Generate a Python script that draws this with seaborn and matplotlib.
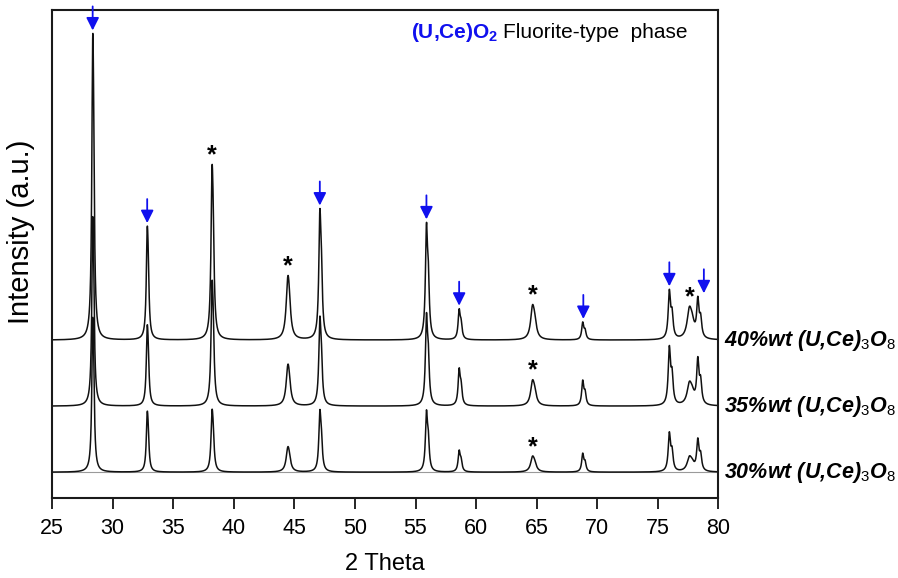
import numpy as np
import pandas as pd
import matplotlib
matplotlib.use('Agg')
import matplotlib.pyplot as plt
import seaborn as sns

# peak list (2 theta, FWHM in degrees)
peak_pos = [28.35, 32.85, 38.2, 44.45, 47.1, 55.9, 58.6, 64.65, 68.8, 75.95, 77.6, 78.3]
peak_fwhm = [0.18, 0.18, 0.20, 0.32, 0.20, 0.20, 0.20, 0.36, 0.20, 0.22, 0.44, 0.22]

# peak heights (a.u.) for each sample
h_40 = [301, 112, 173, 63, 130, 117, 31, 35, 18, 50, 32, 39]
h_35 = [186, 80, 124, 41, 89, 93, 38, 26, 26, 60, 23, 46]
h_30 = [152, 60, 62, 25, 62, 62, 22, 16, 19, 40, 15, 32]

samples = ['40%wt (U,Ce)$_3$O$_8$', '35%wt (U,Ce)$_3$O$_8$', '30%wt (U,Ce)$_3$O$_8$']
offsets = [132, 66, 0]

# markers
fluorite_pos = [28.35, 32.85, 47.1, 55.9, 58.6, 68.85, 75.95, 78.8]
star_pos = [38.2, 44.45, 64.65, 77.6]
star_pos_lower = [64.65]

ka2_ratio = 0.5

two_theta = np.linspace(25, 80, 5501)


def lor(x, p, w):
    return 1 / (1 + ((x - p) / (w / 2)) ** 2)


def pattern(heights):
    y = np.zeros_like(two_theta)
    for p, w, h in zip(peak_pos, peak_fwhm, heights):
        # Cu K-alpha2 shoulder
        p2 = p + np.degrees(2 * np.tan(np.radians(p / 2)) * 0.00247)
        a = h / (1 + ka2_ratio * lor(p, p2, w))
        y += a * lor(two_theta, p, w) + ka2_ratio * a * lor(two_theta, p2, w)
    return y


rows = []
for name, off, hs in zip(samples, offsets, [h_40, h_35, h_30]):
    rows.append(pd.DataFrame({'2 Theta': two_theta, 'Intensity': pattern(hs) + off, 'sample': name}))
df = pd.concat(rows)

sns.set_style('ticks')
plt.rcParams['font.family'] = ['Liberation Sans', 'DejaVu Sans']
plt.rcParams['mathtext.fontset'] = 'custom'
plt.rcParams['mathtext.it'] = 'Liberation Sans:bold:italic'
plt.rcParams['mathtext.bf'] = 'Liberation Sans:bold'
plt.rcParams['mathtext.rm'] = 'Liberation Sans'
plt.rcParams['text.color'] = 'black'
plt.rcParams['axes.labelcolor'] = 'black'
plt.rcParams['xtick.color'] = 'black'

fig = plt.figure(figsize=(8.98, 5.78), dpi=100)
ax = fig.add_axes([0.058, 0.138, 0.742, 0.845])

ax.axhline(0, color='#9a9a9a', lw=0.8, zorder=1)
for name in samples[::-1]:
    d = df[df['sample'] == name]
    sns.lineplot(data=d, x='2 Theta', y='Intensity', color='#111111', lw=1.1, ax=ax, estimator=None)

ax.set_xlim(25, 80)
ax.set_ylim(-26, 462)
ax.set_xticks(range(25, 81, 5))
ax.set_yticks([])
ax.tick_params(axis='x', direction='out', length=8, width=1.2, pad=6, labelsize=15.5)
for s in ax.spines.values():
    s.set_linewidth(1.5)
    s.set_color('#1a1a1a')
ax.set_xlabel('2 Theta', fontsize=17, labelpad=10)
ax.set_ylabel('Intensity (a.u.)', fontsize=21)
ax.yaxis.set_label_coords(-0.026, 0.545)

# sample labels right of the frame
for name, off in zip(samples, offsets):
    ax.text(80.5, off, name, fontsize=15.5, fontweight='bold', fontstyle='italic',
            va='center', ha='left', clip_on=False)

top_40 = pattern(h_40) + offsets[0]


def local_top(x, trace):
    m = (two_theta > x - 0.5) & (two_theta < x + 0.5)
    return trace[m].max()


for x in fluorite_pos:
    tip = local_top(x, top_40) + 3
    ax.annotate('', xy=(x, tip), xytext=(x, tip + 24),
                arrowprops=dict(arrowstyle='-|>', color='#1010ee', lw=1.3, mutation_scale=19,
                                shrinkA=0, shrinkB=0))

for x in star_pos:
    ax.text(x, local_top(x, top_40) + 9, '*', fontsize=18, fontweight='bold', ha='center', va='center')
for x in star_pos_lower:
    for hs, off in zip([h_35, h_30], offsets[1:]):
        ax.text(x, local_top(x, pattern(hs) + off) + 9, '*', fontsize=18, fontweight='bold',
                ha='center', va='center')

ax.text(0.539, 0.953, r'(U,Ce)O$_\mathbf{2}$', transform=ax.transAxes, color='#1010ee',
        fontsize=15, fontweight='bold', ha='left', va='center')
ax.text(0.677, 0.953, 'Fluorite-type  phase', transform=ax.transAxes, color='black',
        fontsize=15, ha='left', va='center')

plt.savefig('out.png', dpi=100)
plt.close()
